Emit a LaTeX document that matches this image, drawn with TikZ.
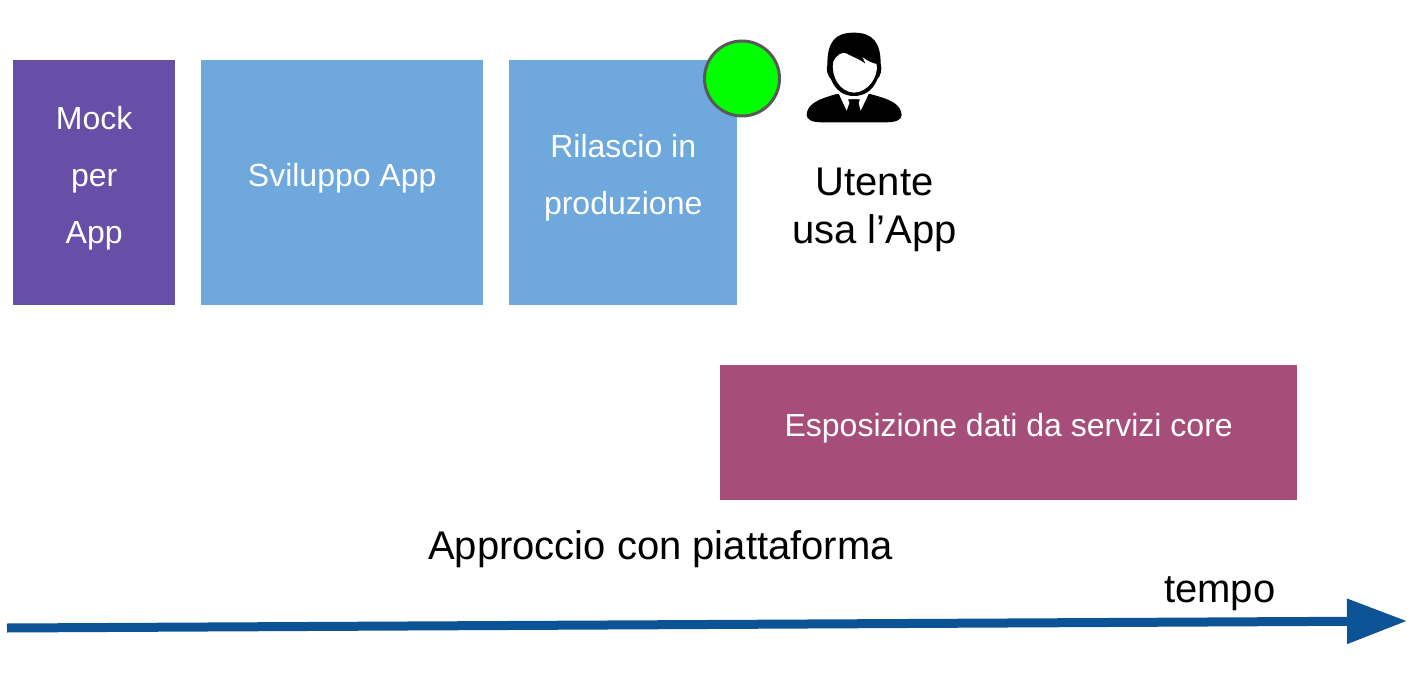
\documentclass[tikz,border=0pt]{standalone}
\usepackage{fontspec}
\setmainfont{Liberation Sans}
\usetikzlibrary{arrows.meta}
\definecolor{mockpurple}{HTML}{674EA7}
\definecolor{devblue}{HTML}{6FA8DC}
\definecolor{coremauve}{HTML}{A64D79}
\definecolor{axisblue}{HTML}{0B5394}
\tikzset{
  phase/.style={anchor=north west,inner sep=0pt,text=white,align=center,text depth=16pt,
    font=\fontsize{32}{57}\selectfont},
  caption/.style={inner sep=0pt,align=center,font=\fontsize{40}{48}\selectfont}
}
\begin{document}
\begin{tikzpicture}[x=1pt,y=-1pt]
\useasboundingbox (0,0) rectangle (1416,676);
% boxes
\node[phase,fill=mockpurple,minimum width=162pt,minimum height=245pt] (mock) at (13,60) {Mock\\per\\App};
\node[phase,fill=devblue,minimum width=282pt,minimum height=245pt] (dev) at (201,60) {Sviluppo App};
\node[phase,fill=devblue,minimum width=228pt,minimum height=245pt] (rel) at (509,60) {Rilascio in\\produzione};
\node[phase,fill=coremauve,minimum width=577pt,minimum height=135pt] (core) at (720,365) {Esposizione dati da servizi core};
\node[circle,draw=black!65,line width=3pt,fill=green,minimum size=75pt,inner sep=0pt] (live) at (742,78.5) {};
% person
\begin{scope}[shift={(690,20)},x=0.3333pt,y=-0.3333pt]
\fill (350,285) .. controls (352,255) and (375,240) .. (440,222)
  -- (540,222) .. controls (610,240) and (632,255) .. (635,285)
  .. controls (635,298) and (620,307) .. (590,307)
  -- (395,307) .. controls (365,307) and (350,298) .. (350,285) -- cycle;
\fill[white] (445,218) -- (470,272) -- (482,238) -- (503,238) -- (512,272) -- (538,218) -- cycle;
\fill (474,238) -- (510,238) -- (500,262) -- (506,303) -- (480,303) -- (486,262) -- cycle;
\fill (412,135) .. controls (412,65) and (435,38) .. (492,38)
  .. controls (550,38) and (572,70) .. (572,130)
  .. controls (578,150) and (570,170) .. (562,178)
  .. controls (547,215) and (520,228) .. (492,228)
  .. controls (465,228) and (438,215) .. (423,178)
  .. controls (412,165) and (408,150) .. (412,135) -- cycle;
\fill[white] (430,125) .. controls (440,105) and (455,95) .. (468,100)
  .. controls (490,112) and (510,118) .. (527,132)
  -- (518,112) .. controls (535,125) and (550,130) .. (560,132)
  .. controls (566,170) and (535,216) .. (492,218)
  .. controls (450,216) and (422,170) .. (430,125) -- cycle;
\end{scope}
% labels
\node[caption] (user) at (874.5,210) {Utente\\usa l’App};
\node[caption,anchor=west] (approach) at (428,549) {Approccio con piattaforma};
\node[caption,anchor=west] (time) at (1164,594) {tempo};
% time axis
\coordinate (t0) at (7,628);
\coordinate (t1) at (1407,621);
\draw[axisblue,line width=9pt,-{Triangle[length=60pt,width=43pt]}] (t0) -- (t1);
\end{tikzpicture}
\end{document}
